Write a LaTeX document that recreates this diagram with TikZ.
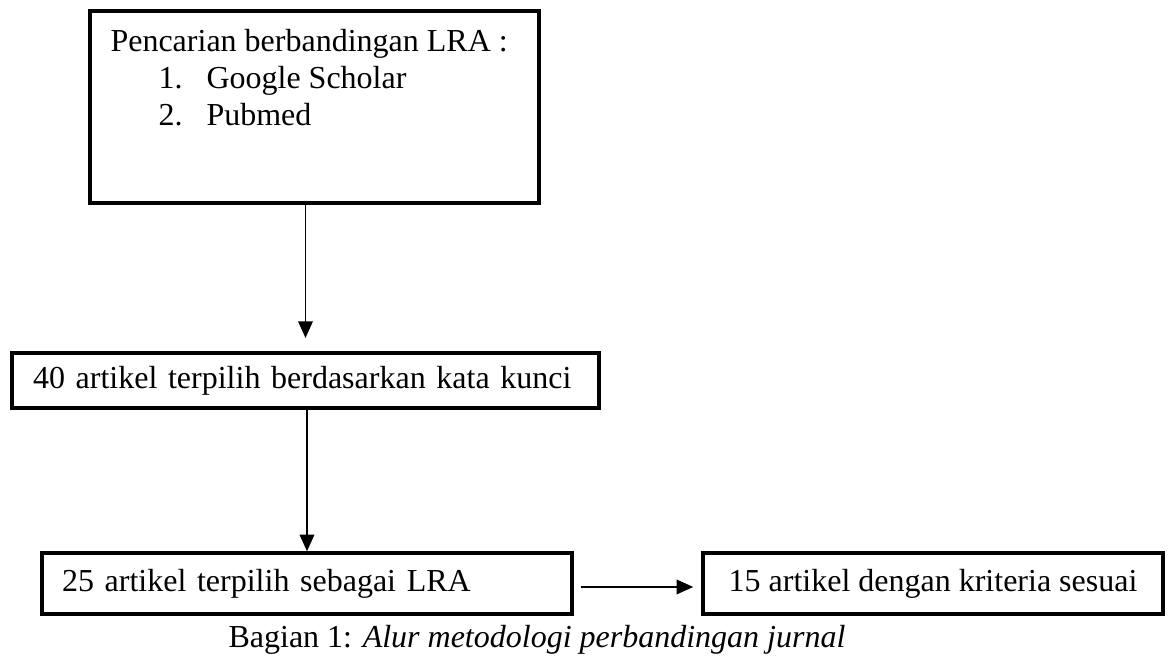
\documentclass[tikz,border=0pt]{standalone}
\usepackage{fontspec}
\setmainfont{Liberation Serif}
\usetikzlibrary{arrows.meta, positioning}
\newcommand{\bodyfont}{\fontsize{24}{27.75}\selectfont}
\tikzset{
  stepbox/.style={rectangle, draw=black, line width=2.6pt, inner sep=0pt, font=\bodyfont},
  arr/.style={-{Triangle[length=12.5pt, width=11pt]}, line width=1.1pt, black},
}

\begin{document}
\begin{tikzpicture}
    \useasboundingbox (0,0) rectangle (876pt,-492.75pt);

    \node[stepbox, minimum width=336.75pt, minimum height=144pt] (search) at (235.875pt,-80.25pt) {};
    \node[anchor=north west, align=left, font=\bodyfont, inner sep=0pt] (searchtxt)
      at ([xshift=16.5pt, yshift=-15pt]search.north west)
      {Pencarian berbandingan LRA :\\
       \hspace*{36pt}\makebox[36pt][l]{1.}Google Scholar\\
       \hspace*{36pt}\makebox[36pt][l]{2.}Pubmed};

    \node[stepbox, minimum height=41.25pt, text width=408.75pt, inner xsep=15.75pt, align=left] (kw)
      at (229.125pt,-285.375pt) {40 artikel terpilih berdasarkan kata kunci};
    \node[stepbox, minimum height=45.75pt, text width=367.5pt, inner xsep=15pt, align=left] (lra)
      at (230.25pt,-437.625pt) {25 artikel terpilih sebagai LRA};
    \node[stepbox, minimum height=45.75pt, minimum width=345pt] (fit15)
      at (699.75pt,-437.625pt) {15 artikel dengan kriteria sesuai};

    \node[font=\bodyfont, inner sep=0pt] (caption) at (402.75pt,-480pt)
      {Bagian 1: \textit{Alur metodologi perbandingan jurnal}};

    \draw[arr] (search.south -| kw.north) -- ([yshift=10pt]kw.north);
    \draw[arr] (kw.south -| lra.north) -- (lra.north);
    \draw[arr] ([xshift=5.25pt, yshift=-2.6pt]lra.east) -- ([xshift=-6pt, yshift=-2.6pt]fit15.west);
\end{tikzpicture}
\end{document}
